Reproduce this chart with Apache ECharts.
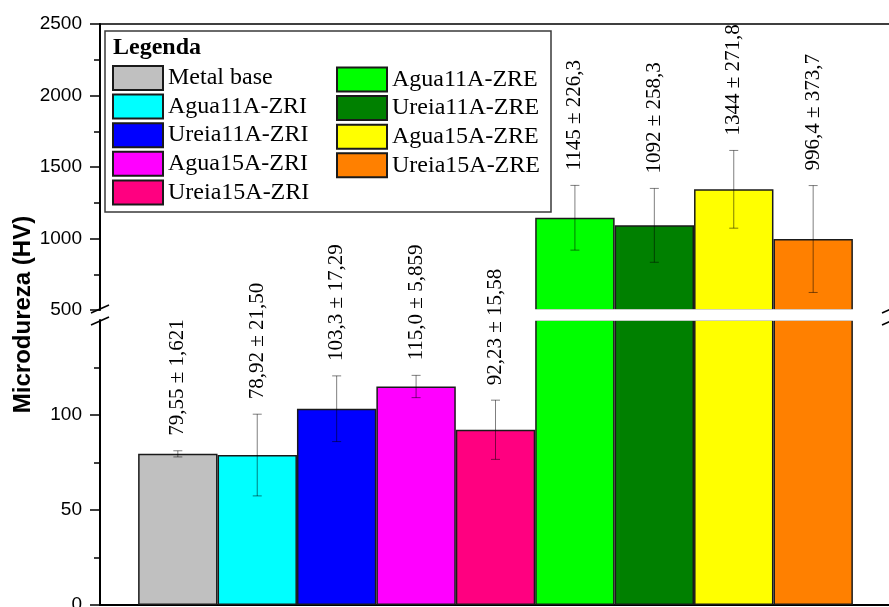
<!DOCTYPE html>
<html>
<head>
<meta charset="utf-8">
<script src="https://cdn.jsdelivr.net/npm/echarts@6/dist/echarts.min.js"></script>
<style>
  html, body { margin: 0; padding: 0; background: #fff; }
  #chart { width: 889px; height: 607px; }
</style>
</head>
<body>
<div id="chart"></div>
<script>
// Vickers microhardness per sample (mean and standard deviation)
const samples = ['Metal base', 'Agua11A-ZRI', 'Ureia11A-ZRI', 'Agua15A-ZRI', 'Ureia15A-ZRI',
                 'Agua11A-ZRE', 'Ureia11A-ZRE', 'Agua15A-ZRE', 'Ureia15A-ZRE'];
const hardness = [79.55, 78.92, 103.3, 115.0, 92.23, 1145, 1092, 1344, 996.4];
const hardnessSd = [1.621, 21.50, 17.29, 5.859, 15.58, 226.3, 258.3, 271.8, 373.7];
const barColors = ['#c0c0c0', '#00ffff', '#0000ff', '#ff00ff', '#ff0080',
                   '#00ff00', '#008000', '#ffff00', '#ff8000'];

// broken y axis: lower segment 0..150, upper segment 500..2500
const lowerRange = [0, 150];
const lowerTicks = [0, 50, 100];
const upperRange = [500, 2500];
const upperStep = 500;

// plot geometry (pixels)
const plotLeft = 100, plotRight = 891;
const upperTop = 24, upperBottom = 310;
const lowerTop = 320, lowerBottom = 605;

const serif = '"Liberation Serif", "Times New Roman", serif';
const sans = '"Liberation Sans", Arial, sans-serif';

const fmt = n => n.toPrecision(4).replace('.', ',');

const chart = echarts.init(document.getElementById('chart'), null, { renderer: 'canvas' });

function valueAxisX(gridIndex, pos) {
  return {
    type: 'value', gridIndex: gridIndex, position: pos,
    min: 0.02, max: 9.98,
    axisLine: { show: true, onZero: false, lineStyle: { color: '#000', width: pos === 'top' ? 1.5 : 2 } },
    axisTick: { show: false }, axisLabel: { show: false }, splitLine: { show: false }
  };
}

const yAxisCommon = {
  type: 'value',
  axisLine: { show: true, lineStyle: { color: '#000', width: 2 } },
  axisTick: { show: true, length: 10, lineStyle: { color: '#000', width: 1.5 } },
  minorTick: { show: true, splitNumber: 2, length: 6, lineStyle: { color: '#000', width: 1.5 } },
  axisLabel: { margin: 18, color: '#000', fontFamily: sans, fontSize: 19, formatter: v => String(v) },
  splitLine: { show: false }
};

// error bars with value labels; only drawn in the segment that holds the mean
function renderError(params, api) {
  const x = api.value(0), v = api.value(1), e = api.value(2);
  const cs = params.coordSys;
  const mid = api.coord([x, v]);
  if (mid[1] < cs.y - 0.5 || mid[1] > cs.y + cs.height + 0.5) return;
  const hi = api.coord([x, v + e]);
  const lo = api.coord([x, v - e]);
  const cap = 4.5;
  const stroke = { stroke: 'rgba(0,0,0,0.5)', lineWidth: 1 };
  return {
    type: 'group',
    children: [
      { type: 'line', shape: { x1: hi[0], y1: hi[1], x2: lo[0], y2: lo[1] }, style: stroke },
      { type: 'line', shape: { x1: hi[0] - cap, y1: hi[1], x2: hi[0] + cap, y2: hi[1] }, style: stroke },
      { type: 'line', shape: { x1: lo[0] - cap, y1: lo[1], x2: lo[0] + cap, y2: lo[1] }, style: stroke },
      {
        type: 'text', x: hi[0], y: hi[1] - 15, rotation: Math.PI / 2,
        style: {
          text: fmt(v) + ' \u00b1 ' + fmt(e),
          x: 0, y: 0, align: 'left', verticalAlign: 'middle',
          fill: '#000', font: '21px ' + serif
        }
      }
    ]
  };
}

const series = [];
[0, 1].forEach(function (g) {
  samples.forEach(function (name, i) {
    series.push({
      type: 'bar', name: name, xAxisIndex: g, yAxisIndex: g,
      data: [[i + 1, hardness[i]]],
      barWidth: '100%', barGap: '-100%',
      itemStyle: { color: barColors[i], borderColor: '#1a1a1a', borderWidth: 1.5 },
      emphasis: { disabled: true }
    });
  });
  series.push({
    type: 'custom', name: 'desvio' + g, xAxisIndex: g, yAxisIndex: g, z: 4,
    clip: false, silent: true,
    data: samples.map((s, i) => [i + 1, hardness[i], hardnessSd[i]]),
    encode: { x: 0, y: 1 },
    renderItem: renderError
  });
});

function breakMarks(cx, cy) {
  const st = { stroke: '#000', lineWidth: 1.5 };
  return [
    { type: 'line', z: 5, shape: { x1: cx - 9, y1: cy - 2, x2: cx + 9, y2: cy - 10 }, style: st },
    { type: 'line', z: 5, shape: { x1: cx - 9, y1: cy + 10, x2: cx + 9, y2: cy + 2 }, style: st }
  ];
}

const midY = (upperBottom + lowerTop) / 2;

const legendCommon = {
  orient: 'vertical', padding: 0,
  itemWidth: 50, itemHeight: 24, itemGap: 2.6,
  icon: 'rect', selectedMode: false,
  textStyle: { fontFamily: serif, fontSize: 24, color: '#000' }
};

chart.setOption({
  animation: false,
  backgroundColor: '#fff',
  title: {
    text: 'Legenda', left: 108, top: 31,
    textStyle: { fontFamily: serif, fontWeight: 'bold', fontSize: 24, color: '#000' }
  },
  legend: [
    Object.assign({}, legendCommon, { left: 112, top: 65, data: samples.slice(0, 5) }),
    Object.assign({}, legendCommon, { left: 336, top: 66.5, data: samples.slice(5) })
  ],
  grid: [
    { left: plotLeft, width: plotRight - plotLeft, top: upperTop, height: upperBottom - upperTop,
      outerBoundsMode: 'none' },
    { left: plotLeft, width: plotRight - plotLeft, top: lowerTop, height: lowerBottom - lowerTop,
      outerBoundsMode: 'none' }
  ],
  xAxis: [valueAxisX(0, 'top'), valueAxisX(1, 'bottom')],
  yAxis: [
    Object.assign({}, yAxisCommon, {
      gridIndex: 0, min: upperRange[0], max: upperRange[1], interval: upperStep
    }),
    Object.assign({}, yAxisCommon, {
      gridIndex: 1, min: lowerRange[0], max: lowerRange[1], interval: 50,
      axisTick: Object.assign({}, yAxisCommon.axisTick, { customValues: lowerTicks }),
      axisLabel: Object.assign({}, yAxisCommon.axisLabel, { customValues: lowerTicks })
    })
  ],
  graphic: [
    // legend frame
    { type: 'rect', z: 3, shape: { x: 105, y: 31, width: 446, height: 181 },
      style: { fill: 'transparent', stroke: '#3a3a3a', lineWidth: 1.5 } },
    // axis break gap across the bars
    { type: 'rect', z: 3, shape: { x: plotLeft + 1.5, y: upperBottom - 0.8, width: 770, height: lowerTop - upperBottom + 1.6 },
      style: { fill: '#fff' } },
    { type: 'text', x: 23, y: (upperTop + lowerBottom) / 2, rotation: Math.PI / 2,
      style: { text: 'Microdureza (HV)', x: 0, y: 0, align: 'center', verticalAlign: 'middle',
               fill: '#000', font: 'bold 24px ' + sans } }
  ].concat(breakMarks(plotLeft, midY), breakMarks(plotRight, midY)),
  series: series
});
</script>
</body>
</html>
